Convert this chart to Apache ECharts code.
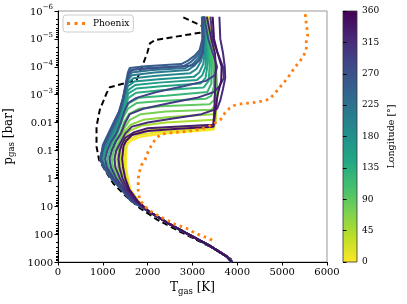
<!DOCTYPE html>
<html><head><meta charset="utf-8">
<script src="https://cdn.jsdelivr.net/npm/echarts@6/dist/echarts.min.js"></script>
<style>html,body{margin:0;padding:0;background:#fff}#c{width:407px;height:304px}</style>
</head><body><div id="c"></div>
<script>
// ---------- data ----------
const longitudes = [0,15,30,45,60,75,90,105,120,135,150,165,180,195,210,225,240,255,270,285,300,315,330,345];

// [T (K), p (bar)] pairs for each longitude, upper/middle atmosphere
const prof000 = [[3360,1.6e-6],[3440,1e-5],[3490,3.2e-5],[3500,1e-4],[3510,1e-3],[3500,0.01],[3470,0.018],[2300,0.025],[1850,0.032],[1620,0.045],[1545,0.063],[1530,0.1],[1520,0.2],[1520,0.4],[1560,1],[1615,2.5],[1790,6.3]];
const prof015 = [[3340,1.6e-6],[3430,1e-5],[3490,3.2e-5],[3520,1e-4],[3530,1e-3],[3510,0.01],[3480,0.016],[2250,0.022],[1800,0.028],[1580,0.04],[1510,0.063],[1500,0.1],[1490,0.2],[1490,0.4],[1530,1],[1590,2.5],[1770,6.3]];
const prof030 = [[3320,1.6e-6],[3420,1e-5],[3480,3.2e-5],[3520,1e-4],[3540,1e-3],[3520,0.008],[3490,0.012],[2300,0.016],[1800,0.022],[1560,0.032],[1480,0.05],[1460,0.1],[1440,0.2],[1450,0.4],[1490,1],[1560,2.5],[1750,6.3]];
const prof045 = [[3300,1.6e-6],[3400,1e-5],[3470,3.2e-5],[3520,1e-4],[3550,1e-3],[3520,0.005],[3480,0.008],[2400,0.01],[1850,0.013],[1600,0.02],[1480,0.032],[1420,0.063],[1400,0.1],[1380,0.2],[1400,0.4],[1450,1],[1530,2.5],[1730,6.3]];
const prof060 = [[3290,1.6e-6],[3390,1e-5],[3460,3.2e-5],[3520,1e-4],[3560,1e-3],[3520,0.0035],[3460,0.005],[2500,0.0063],[1900,0.008],[1620,0.012],[1500,0.02],[1420,0.04],[1360,0.08],[1340,0.14],[1320,0.2],[1340,0.4],[1400,1],[1500,2.5],[1710,6.3]];
const prof075 = [[3280,1.6e-6],[3380,1e-5],[3450,3.2e-5],[3510,1e-4],[3550,1e-3],[3500,0.0025],[3420,0.0035],[2400,0.004],[1850,0.005],[1600,0.008],[1480,0.016],[1400,0.032],[1330,0.063],[1300,0.1],[1260,0.2],[1280,0.4],[1360,1],[1480,2.5],[1700,6.3]];
const prof090 = [[3270,1.6e-6],[3360,1e-5],[3430,3.2e-5],[3490,1e-4],[3520,6.3e-4],[3480,0.0016],[3380,0.0022],[2300,0.0026],[1800,0.0032],[1580,0.005],[1470,0.01],[1380,0.025],[1300,0.05],[1250,0.1],[1200,0.2],[1230,0.4],[1320,1],[1460,2.5],[1690,6.3]];
const prof105 = [[3260,1.6e-6],[3340,1e-5],[3400,3.2e-5],[3460,1e-4],[3480,5e-4],[3420,0.0011],[3300,0.0014],[2300,0.0017],[1750,0.002],[1560,0.0032],[1460,0.0063],[1370,0.016],[1280,0.04],[1200,0.1],[1150,0.2],[1180,0.4],[1290,1],[1450,2.5],[1680,6.3]];
const prof120 = [[3250,1.6e-6],[3320,1e-5],[3380,3.2e-5],[3420,1e-4],[3420,4e-4],[3330,8e-4],[2400,0.0011],[1800,0.0013],[1580,0.002],[1480,0.004],[1390,0.01],[1300,0.025],[1220,0.05],[1150,0.1],[1100,0.2],[1130,0.4],[1270,1],[1440,2.5],[1670,6.3]];
const prof135 = [[3250,1.6e-6],[3300,1e-5],[3350,3.2e-5],[3380,1e-4],[3360,3.2e-4],[3250,5.5e-4],[2300,7e-4],[1750,8.5e-4],[1570,0.0013],[1480,0.0032],[1380,0.01],[1280,0.025],[1180,0.05],[1100,0.1],[1050,0.2],[1090,0.4],[1250,1],[1430,2.5],[1660,6.3]];
const prof150 = [[3250,1.6e-6],[3290,1e-5],[3320,3.2e-5],[3330,1e-4],[3290,2.5e-4],[3180,4e-4],[2300,5e-4],[1750,6e-4],[1570,9e-4],[1480,0.0025],[1370,0.01],[1250,0.025],[1150,0.05],[1060,0.1],[1000,0.2],[1060,0.4],[1230,1],[1430,2.5],[1650,6.3]];
const prof165 = [[3250,1.6e-6],[3280,1e-5],[3300,3.2e-5],[3290,1e-4],[3220,2e-4],[3100,3e-4],[2250,3.7e-4],[1720,4.5e-4],[1560,7e-4],[1470,0.002],[1360,0.008],[1240,0.025],[1130,0.05],[1030,0.1],[980,0.2],[1040,0.4],[1210,1],[1420,2.5],[1640,6.3]];
const prof180 = [[3250,1.6e-6],[3270,1e-5],[3270,3.2e-5],[3240,8e-5],[3150,1.6e-4],[3030,2.3e-4],[2250,2.8e-4],[1700,3.4e-4],[1560,5e-4],[1480,0.0013],[1400,0.004],[1320,0.01],[1200,0.025],[1100,0.05],[1010,0.1],[960,0.2],[1030,0.4],[1200,1],[1420,2.5],[1630,6.3]];
const prof195 = [[3250,1.6e-6],[3260,1e-5],[3240,3.2e-5],[3190,6.3e-5],[3090,1.2e-4],[2950,1.7e-4],[2200,2.1e-4],[1680,2.6e-4],[1560,3.8e-4],[1490,0.001],[1410,0.0032],[1320,0.01],[1200,0.025],[1090,0.05],[1000,0.1],[950,0.2],[1020,0.4],[1190,1],[1420,2.5],[1630,6.3]];
const prof210 = [[3240,1.6e-6],[3250,1e-5],[3220,3.2e-5],[3150,5.5e-5],[3050,9e-5],[2900,1.3e-4],[2150,1.6e-4],[1650,2e-4],[1560,3e-4],[1490,8e-4],[1420,0.0025],[1330,0.008],[1210,0.02],[1090,0.05],[990,0.1],[940,0.2],[1020,0.4],[1190,1],[1420,2.5],[1625,6.3]];
const prof225 = [[3230,1.6e-6],[3240,1e-5],[3200,3e-5],[3120,5e-5],[3000,8e-5],[2850,1.1e-4],[2100,1.3e-4],[1640,1.6e-4],[1570,2.5e-4],[1500,6.3e-4],[1430,0.002],[1340,0.0063],[1220,0.016],[1100,0.04],[990,0.1],[940,0.2],[1020,0.4],[1190,1],[1420,2.5],[1625,6.3]];
const prof240 = [[3220,1.6e-6],[3230,1e-5],[3180,2.8e-5],[3080,4.5e-5],[2950,7e-5],[2800,9.5e-5],[2000,1.1e-4],[1620,1.3e-4],[1570,2e-4],[1510,5e-4],[1440,0.0016],[1350,0.005],[1230,0.013],[1110,0.032],[1000,0.08],[940,0.2],[1020,0.4],[1190,1],[1420,2.5],[1625,6.3]];
const prof255 = [[3210,1.6e-6],[3220,1e-5],[3160,2.5e-5],[3050,4e-5],[2900,6e-5],[2750,8e-5],[1950,9.5e-5],[1600,1.1e-4],[1560,1.6e-4],[1510,4e-4],[1450,0.0013],[1360,0.004],[1240,0.01],[1120,0.025],[1000,0.063],[950,0.2],[1030,0.4],[1200,1],[1420,2.5],[1630,6.3]];
const prof270 = [[3220,1.6e-6],[3250,1e-5],[3230,3.2e-5],[3150,6e-5],[3000,9e-5],[2200,1.1e-4],[1700,1.25e-4],[1580,1.6e-4],[1520,4e-4],[1460,0.0013],[1370,0.004],[1260,0.01],[1140,0.025],[1020,0.063],[960,0.2],[1040,0.4],[1210,1],[1430,2.5],[1630,6.3]];
const prof285 = [[3260,1.6e-6],[3350,1e-5],[3450,3.2e-5],[3550,1e-4],[3500,2e-4],[3300,3.2e-4],[2800,5e-4],[2200,8e-4],[1750,0.0013],[1560,0.002],[1480,0.004],[1400,0.01],[1300,0.025],[1180,0.05],[1100,0.1],[1050,0.2],[1090,0.4],[1240,1],[1440,2.5],[1660,6.3]];
const prof300 = [[3400,1.6e-6],[3450,1e-5],[3560,3.2e-5],[3680,1e-4],[3700,2.5e-4],[3600,5e-4],[3480,8e-4],[3100,0.0013],[2500,0.002],[1900,0.0032],[1600,0.005],[1500,0.01],[1400,0.025],[1280,0.05],[1200,0.1],[1150,0.2],[1180,0.4],[1300,1],[1480,2.5],[1690,6.3]];
const prof315 = [[3600,1.6e-6],[3620,1e-5],[3680,3.2e-5],[3720,1e-4],[3730,2.5e-4],[3680,6.3e-4],[3620,0.0016],[3550,0.0032],[3200,0.005],[2600,0.007],[2000,0.01],[1650,0.014],[1500,0.025],[1400,0.05],[1300,0.1],[1260,0.2],[1280,0.4],[1380,1],[1520,2.5],[1720,6.3]];
const prof330 = [[3320,1.6e-6],[3420,1e-5],[3500,3.2e-5],[3520,1e-4],[3500,1e-3],[3480,0.006],[3460,0.012],[2600,0.014],[2000,0.016],[1700,0.022],[1500,0.035],[1420,0.063],[1380,0.1],[1350,0.2],[1370,0.4],[1440,1],[1560,2.5],[1750,6.3]];
const prof345 = [[3450,1.6e-6],[3480,1e-5],[3560,3.2e-5],[3650,1e-4],[3640,3.2e-4],[3560,1e-3],[3500,0.005],[3470,0.014],[2600,0.017],[2000,0.02],[1650,0.028],[1520,0.045],[1460,0.07],[1450,0.1],[1430,0.2],[1450,0.4],[1500,1],[1590,2.5],[1770,6.3]];

// deep atmosphere where all profiles converge
const deepTail = [[2040,16],[2450,40],[2900,100],[3360,250],[3760,630],[3880,1000]];

// black dashed reference profile
const dashedProfile = [[2795,1.7e-6],[3242,3.6e-6],[3168,6e-6],[2162,1.1e-5],[2050,1.45e-5],[1990,3.2e-5],[1865,1.1e-4],[1753,3e-4],[1156,5.4e-4],[1082,9e-4],[932,3.5e-3],[859,0.014],[859,0.072],[917,0.22],[1044,0.5],[1230,1.5],[1529,4.6],[1827,11.7],[2200,29.5],[2647,71],[3168,186],[3616,427],[3877,830]];

// orange dotted "Phoenix" profile
const phoenixProfile = [[5516,1.3e-6],[5532,2.4e-6],[5554,4.6e-6],[5568,7.8e-6],[5538,1.26e-5],[5538,2.5e-5],[5465,4.4e-5],[5382,6.8e-5],[5292,1e-4],[5130,2.4e-4],[4935,5.9e-4],[4718,1.45e-3],[4622,1.6e-3],[4481,1.8e-3],[4324,1.95e-3],[4175,2.05e-3],[4025,2.2e-3],[3913,2.5e-3],[3824,3.1e-3],[3727,4.4e-3],[3676,6.2e-3],[3616,8.1e-3],[3466,0.0112],[3354,0.0141],[3168,0.0174],[2983,0.0195],[2795,0.0214],[2609,0.0224],[2424,0.024],[2274,0.0275],[2162,0.042],[2088,0.063],[2012,0.11],[1939,0.22],[1865,0.33],[1811,0.63],[1789,1],[1789,1.74],[1789,3.2],[1827,5.9],[1939,10.2],[2050,14.5],[2200,20.4],[2348,27],[2498,35.5],[2609,44.7],[2759,53.7],[2907,66],[3057,93],[3206,115],[3354,141],[3488,186]];

const xTicks = [0,1000,2000,3000,4000,5000,6000];
const yTicks = [1e-6,1e-5,1e-4,1e-3,0.01,0.1,1,10,100,1000];
const yTickLabels = ['10^−6','10^−5','10^−4','10^−3','0.01','0.1','1','10','100','1000'];
const cbarTicks = [0,45,90,135,180,225,270,315,360];

// ---------- styling ----------
const profiles = [prof000,prof015,prof030,prof045,prof060,prof075,prof090,prof105,prof120,prof135,prof150,prof165,prof180,prof195,prof210,prof225,prof240,prof255,prof270,prof285,prof300,prof315,prof330,prof345];
const viridisStops = ['#440154','#482475','#414487','#355f8d','#2a788e','#21918c','#22a884','#44bf70','#7ad151','#bddf26','#fde725'];
function hx(h){return [parseInt(h.substr(1,2),16),parseInt(h.substr(3,2),16),parseInt(h.substr(5,2),16)];}
function viridis(t){
  t=Math.max(0,Math.min(1,t));
  const s=t*10, i=Math.min(9,Math.floor(s)), f=s-i;
  const a=hx(viridisStops[i]), b=hx(viridisStops[i+1]);
  return 'rgb('+a.map((v,k)=>Math.round(v+(b[k]-v)*f)).join(',')+')';
}
const FONT = 'DejaVu Serif';

const series = longitudes.map((lon,i)=>({
  type:'line', xAxisIndex:0, yAxisIndex:0, name:'lon'+lon,
  data: profiles[i].concat(deepTail), symbol:'none', silent:true,
  lineStyle:{color: viridis(1-lon/360), width:2}, z:3
}));
series.push({type:'line', name:'dashed', xAxisIndex:0, yAxisIndex:0, data:dashedProfile, symbol:'none', silent:true,
  lineStyle:{color:'#000', width:2, type:[6,3.5]}, z:2});
series.push({type:'line', name:'Phoenix', xAxisIndex:0, yAxisIndex:0, data:phoenixProfile, symbol:'none', silent:true,
  itemStyle:{color:'#ff7f0e'},
  lineStyle:{color:'#ff7f0e', width:2.8, type:[2.6,4], cap:'butt'}, z:4});

const chart = echarts.init(document.getElementById('c'), null, {renderer:'canvas'});
chart.setOption({
  animation:false,
  backgroundColor:'#fff',
  textStyle:{fontFamily:FONT},
  legend:{data:[{name:'Phoenix', icon:'path://M0,0h3v3h-3zM7.5,0h3v3h-3zM15,0h3v3h-3z', itemStyle:{color:'#ff7f0e', borderWidth:0}}],
    left:63, top:15, orient:'vertical', padding:[3,4,3,4], itemWidth:18, itemHeight:3,
    itemGap:0, borderColor:'#ccc', borderWidth:1, borderRadius:3, backgroundColor:'rgba(255,255,255,0.85)',
    textStyle:{fontFamily:FONT, fontSize:9, color:'#000', lineHeight:11, padding:[0,0,0,3]}},
  grid:[
    {left:58, right:80, top:11, bottom:42, show:true, borderColor:'#999', borderWidth:1, backgroundColor:'transparent', outerBoundsMode:'none', containLabel:false},
    {left:343, right:50, top:11, bottom:42, show:true, borderColor:'#333', borderWidth:0.8, outerBoundsMode:'none', containLabel:false,
      backgroundColor:new echarts.graphic.LinearGradient(0,0,0,1, viridisStops.map((c,k)=>({offset:k/10, color:c})))}
  ],
  xAxis:[
    {type:'value', gridIndex:0, min:xTicks[0], max:xTicks[xTicks.length-1], interval:1000,
      axisLine:{show:true, onZero:false, lineStyle:{color:'#000', width:1}},
      axisTick:{show:true, length:3.5, lineStyle:{color:'#000'}},
      axisLabel:{fontFamily:FONT, fontSize:10, color:'#000', margin:5, formatter:function(v){return String(v);}},
      splitLine:{show:false},
      name:'{m|T}{sub|gas}{m| [K]}', nameLocation:'middle', nameGap:19,
      nameTextStyle:{rich:{m:{fontFamily:FONT, fontSize:12, color:'#000', lineHeight:14, verticalAlign:'top'},
                            sub:{fontFamily:FONT, fontSize:8.5, color:'#000', lineHeight:10, padding:[5,0,0,0], verticalAlign:'top'}}}},
    {type:'value', gridIndex:1, min:0, max:1, show:false}
  ],
  yAxis:[
    {type:'log', gridIndex:0, logBase:10, min:yTicks[0], max:yTicks[yTicks.length-1], inverse:true,
      axisLine:{show:true, onZero:false, lineStyle:{color:'#000', width:1}},
      axisTick:{show:true, length:3.5, lineStyle:{color:'#000'}},
      minorTick:{show:true, splitNumber:9, length:2, lineStyle:{color:'#000'}},
      splitLine:{show:false}, minorSplitLine:{show:false},
      axisLabel:{margin:5, fontFamily:FONT, color:'#000',
        formatter:function(v){
          const e=Math.round(Math.log10(v));
          const lab=yTickLabels[e+6];
          if(lab===undefined) return '';
          if(lab.indexOf('^')>=0){const pr=lab.split('^'); return '{b|'+pr[0]+'}{s|'+pr[1]+'}';}
          return '{b|'+lab+'}';
        },
        rich:{b:{fontFamily:FONT, fontSize:10, color:'#000', lineHeight:12, verticalAlign:'bottom'},
              s:{fontFamily:FONT, fontSize:7, color:'#000', lineHeight:8, padding:[0,0,6,0], verticalAlign:'bottom'}}},
      name:'{m|p}{sub|gas}{m| [bar]}', nameLocation:'middle', nameRotate:90, nameGap:33,
      nameTextStyle:{rich:{m:{fontFamily:FONT, fontSize:12, color:'#000', lineHeight:14, verticalAlign:'top'},
                            sub:{fontFamily:FONT, fontSize:8.5, color:'#000', lineHeight:10, padding:[5,0,0,0], verticalAlign:'top'}}}},
    {type:'value', gridIndex:1, min:cbarTicks[0], max:cbarTicks[cbarTicks.length-1], interval:45, position:'right',
      axisLine:{show:false}, splitLine:{show:false},
      axisTick:{show:true, length:3.5, lineStyle:{color:'#000'}},
      axisLabel:{fontFamily:FONT, fontSize:9, color:'#000', margin:5},
      name:'Longitude [°]', nameLocation:'middle', nameRotate:90, nameGap:30,
      nameTextStyle:{fontFamily:FONT, fontSize:9.5, color:'#000'}}
  ],
  series:series
});
</script></body></html>
